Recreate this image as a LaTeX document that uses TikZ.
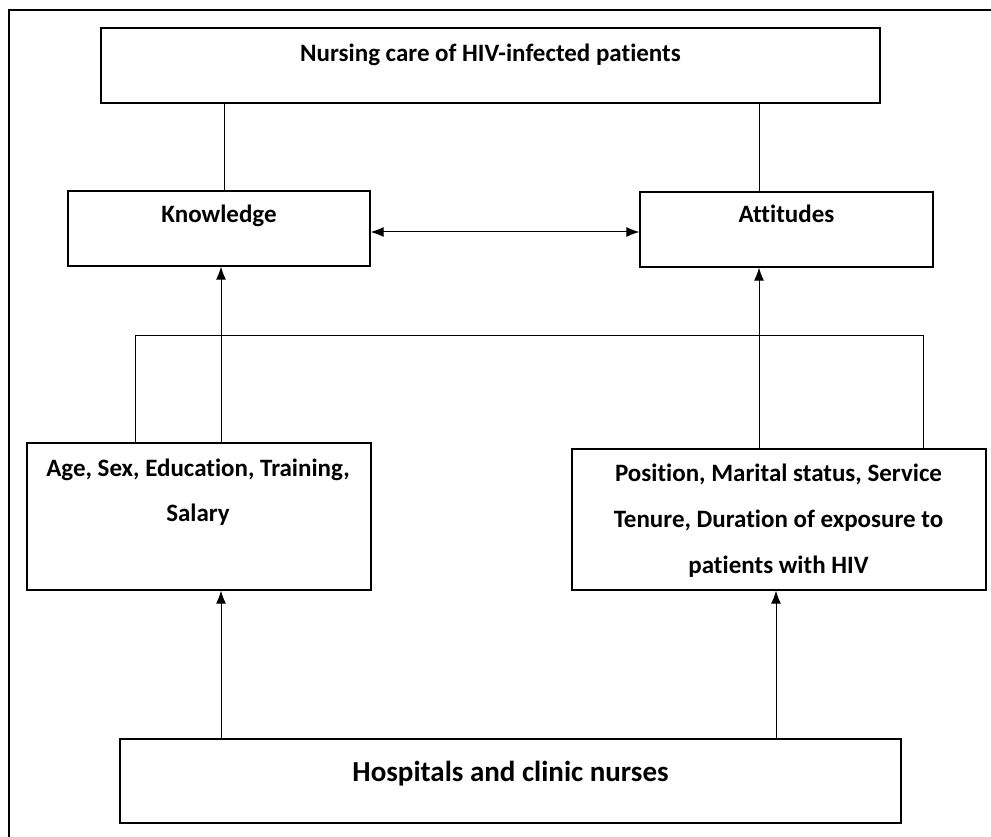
\documentclass[tikz,border=0pt]{standalone}
\usepackage{fontspec}
\setmainfont[Ligatures=NoCommon]{Carlito}
\usetikzlibrary{arrows.meta,calc}
\tikzset{
  box/.style={draw, line width=1.3pt, inner sep=0pt, fill=white},
  txt/.style={font=\bfseries\fontsize{25}{30}\selectfont, inner sep=0pt, anchor=base},
  big/.style={font=\bfseries\fontsize{29}{34}\selectfont, inner sep=0pt, anchor=base},
  conn/.style={line width=1pt},
  arr/.style={line width=1pt, -{Latex[length=13pt,width=10pt]}},
  darr/.style={line width=1pt, {Latex[length=13pt,width=10pt]}-{Latex[length=13pt,width=10pt]}}
}
\begin{document}
\begin{tikzpicture}[x=1pt,y=-1pt]
\useasboundingbox (0,0) rectangle (991,837);
\fill[white] (0,0) rectangle (991,837);
\draw[line width=2.2pt] (9,837) -- (9,10) -- (991,10);

% boxes
\node[box, minimum width=779, minimum height=75] (top) at (490.5,65.5) {};
\node[txt] (topt) at (490.5,61.5) {Nursing care of HIV-infected patients};

\node[box, minimum width=302, minimum height=75] (kn) at (219,228.5) {};
\node[txt] (knt) at (219,223) {Knowledge};

\node[box, minimum width=293, minimum height=75] (at) at (786.5,229.5) {};
\node[txt] (att) at (786.5,223) {Attitudes};

\node[box, minimum width=344, minimum height=147] (lb) at (199,516.5) {};
\node[txt] (lbt1) at (198,476) {Age, Sex, Education, Training,};
\node[txt] (lbt2) at (198,521) {Salary};

\node[box, minimum width=414, minimum height=141] (rb) at (779,519.5) {};
\node[txt] (rbt1) at (778.5,481.5) {Position, Marital status, Service};
\node[txt] (rbt2) at (778.5,527) {Tenure, Duration of exposure to};
\node[txt] (rbt3) at (778.5,573) {patients with HIV};

\node[box, minimum width=781, minimum height=84] (bot) at (510.5,781) {};
\node[big] (bott) at (510.5,781.5) {Hospitals and clinic nurses};

\coordinate (bar) at (500,335);

% connectors
\draw[conn] ([xshift=5pt]kn.north) -- ([xshift=5pt]kn.north |- top.south);
\draw[conn] ([xshift=-27.5pt]at.north) -- ([xshift=-27.5pt]at.north |- top.south);
\draw[darr] ([yshift=-3.5pt]kn.east) -- ([yshift=-3.5pt]kn.east -| at.west);
\draw[arr] ([xshift=22pt]lb.north) -- ([xshift=22pt]lb.north |- kn.south);
\draw[arr] ([xshift=-20pt]rb.north) -- ([xshift=-20pt]rb.north |- at.south);
\draw[conn] ([xshift=-64pt]lb.north) |- ([xshift=144pt]rb.north |- bar) -- ([xshift=144pt]rb.north);
\draw[arr] ([xshift=22pt]lb.south |- bot.north) -- ([xshift=22pt]lb.south);
\draw[arr] ([xshift=-3pt]rb.south |- bot.north) -- ([xshift=-3pt]rb.south);
\end{tikzpicture}
\end{document}
